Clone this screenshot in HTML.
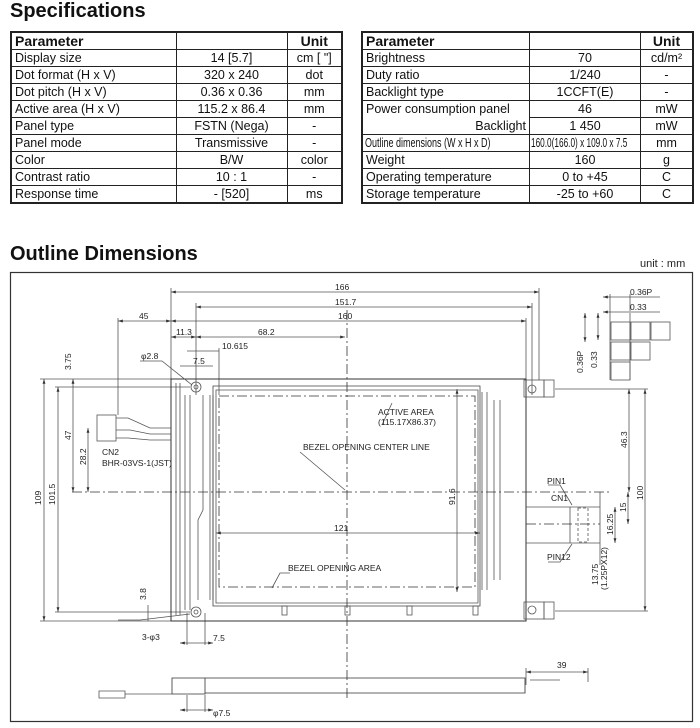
<!DOCTYPE html>
<html><head><meta charset="utf-8"><style>
body{margin:0;width:700px;height:728px;background:#fff;font-family:"Liberation Sans",sans-serif;position:relative;overflow:hidden}
h1{position:absolute;margin:0;font-size:20px;font-weight:bold;color:#111}
table{position:absolute;border-collapse:collapse;font-size:12.5px;color:#111}
td{border:1px solid #222;height:16px;padding:0 3px;line-height:16px;white-space:nowrap}
td.c{text-align:center}
tr.h td{font-weight:bold;font-size:14px}
table{border:2px solid #222}
.sq{display:inline-block;transform:scaleX(0.72);transform-origin:left center}
</style></head><body>
<h1 style="left:10px;top:0px">Specifications</h1>
<table style="left:10px;top:31px;width:333px">
<col style="width:165px"><col style="width:111px"><col style="width:55px">
<tr class="h"><td>Parameter</td><td></td><td class="c">Unit</td></tr>
<tr><td>Display size</td><td class="c">14 [5.7]</td><td class="c">cm [ "]</td></tr>
<tr><td>Dot format (H x V)</td><td class="c">320 x 240</td><td class="c">dot</td></tr>
<tr><td>Dot pitch (H x V)</td><td class="c">0.36 x 0.36</td><td class="c">mm</td></tr>
<tr><td>Active area (H x V)</td><td class="c">115.2 x 86.4</td><td class="c">mm</td></tr>
<tr><td>Panel type</td><td class="c">FSTN (Nega)</td><td class="c">-</td></tr>
<tr><td>Panel mode</td><td class="c">Transmissive</td><td class="c">-</td></tr>
<tr><td>Color</td><td class="c">B/W</td><td class="c">color</td></tr>
<tr><td>Contrast ratio</td><td class="c">10 : 1</td><td class="c">-</td></tr>
<tr><td>Response time</td><td class="c">- [520]</td><td class="c">ms</td></tr>
</table>
<table style="left:361px;top:31px;width:333px">
<col style="width:166px"><col style="width:110px"><col style="width:55px">
<tr class="h"><td>Parameter</td><td></td><td class="c">Unit</td></tr>
<tr><td>Brightness</td><td class="c">70</td><td class="c">cd/m²</td></tr>
<tr><td>Duty ratio</td><td class="c">1/240</td><td class="c">-</td></tr>
<tr><td>Backlight type</td><td class="c">1CCFT(E)</td><td class="c">-</td></tr>
<tr><td style="border-bottom:none">Power consumption panel</td><td class="c">46</td><td class="c">mW</td></tr>
<tr><td style="border-top:none;text-align:right">Backlight</td><td class="c">1 450</td><td class="c">mW</td></tr>
<tr><td style="padding:0 2px;overflow:hidden;max-width:162px"><span class="sq">Outline dimensions (W x H x D)</span></td><td style="padding:0 1px;overflow:hidden;max-width:108px"><span class="sq" style="transform:scaleX(0.66)">160.0(166.0) x 109.0 x 7.5</span></td><td class="c">mm</td></tr>
<tr><td>Weight</td><td class="c">160</td><td class="c">g</td></tr>
<tr><td>Operating temperature</td><td class="c">0 to +45</td><td class="c">C</td></tr>
<tr><td>Storage temperature</td><td class="c">-25 to +60</td><td class="c">C</td></tr>
</table>
<h1 style="left:10px;top:243px">Outline Dimensions</h1>
<div style="position:absolute;left:640px;top:258px;font-size:11px;color:#222">unit : mm</div>
<svg style="position:absolute;left:0;top:0" width="700" height="728" viewBox="0 0 700 728" font-family="Liberation Sans, sans-serif" font-size="8" fill="#222">
<defs><marker id="a" viewBox="0 0 10 10" refX="10" refY="5" markerWidth="6" markerHeight="6" orient="auto-start-reverse"><path d="M0 2L10 5L0 8z" fill="#333"/></marker></defs>
<rect x="10.5" y="272.5" width="682" height="449" fill="none" stroke="#333" stroke-width="1.2"/>
<g stroke="#555" stroke-width="0.8" fill="none">
<line x1="171" y1="292" x2="539" y2="292" marker-start="url(#a)" marker-end="url(#a)"/>
<line x1="196" y1="307" x2="532" y2="307" marker-start="url(#a)" marker-end="url(#a)"/>
<line x1="171" y1="321" x2="526" y2="321" marker-start="url(#a)" marker-end="url(#a)"/>
<line x1="118" y1="321" x2="171" y2="321" marker-start="url(#a)" marker-end="url(#a)"/>
<line x1="171" y1="337" x2="196" y2="337" marker-start="url(#a)" marker-end="url(#a)"/>
<line x1="196" y1="337" x2="345" y2="337" marker-start="url(#a)" marker-end="url(#a)"/>
<line x1="187" y1="351" x2="219" y2="351"/>
<line x1="180" y1="366" x2="213" y2="366"/>
<line x1="171" y1="288" x2="171" y2="380"/><line x1="539" y1="288" x2="539" y2="380"/>
<line x1="196" y1="303" x2="196" y2="395"/><line x1="532" y1="303" x2="532" y2="395"/>
<line x1="526" y1="318" x2="526" y2="380"/><line x1="118" y1="318" x2="118" y2="415"/>
<line x1="219" y1="348" x2="219" y2="395"/>
<line x1="44" y1="379" x2="44" y2="621" marker-start="url(#a)" marker-end="url(#a)"/>
<line x1="58" y1="387" x2="58" y2="612" marker-start="url(#a)" marker-end="url(#a)"/>
<line x1="73" y1="379" x2="73" y2="492" marker-start="url(#a)" marker-end="url(#a)"/>
<line x1="88" y1="428" x2="88" y2="492" marker-start="url(#a)" marker-end="url(#a)"/>
<line x1="40" y1="379" x2="171" y2="379"/><line x1="55" y1="387" x2="190" y2="387"/>
<line x1="40" y1="621" x2="171" y2="621"/><line x1="55" y1="612" x2="190" y2="612"/>
<line x1="148" y1="605" x2="148" y2="621"/>
<line x1="180" y1="643" x2="213" y2="643" marker-start="url(#a)" marker-end="url(#a)"/>
<line x1="180" y1="710" x2="213" y2="710" marker-start="url(#a)" marker-end="url(#a)"/>
<line x1="187" y1="613" x2="187" y2="645"/><line x1="205" y1="613" x2="205" y2="645"/>
<line x1="187" y1="695" x2="187" y2="712"/><line x1="205" y1="695" x2="205" y2="712"/>
<line x1="629" y1="389" x2="629" y2="492" marker-start="url(#a)" marker-end="url(#a)"/>
<line x1="645" y1="389" x2="645" y2="611" marker-start="url(#a)" marker-end="url(#a)"/>
<line x1="628" y1="492" x2="628" y2="524" marker-start="url(#a)" marker-end="url(#a)"/>
<line x1="615" y1="507" x2="615" y2="543" marker-start="url(#a)" marker-end="url(#a)"/>
<line x1="600" y1="492" x2="600" y2="565"/>
<line x1="555" y1="389" x2="648" y2="389"/><line x1="555" y1="611" x2="648" y2="611"/>
<line x1="526" y1="672" x2="588" y2="672" marker-start="url(#a)" marker-end="url(#a)"/>
<line x1="588" y1="668" x2="588" y2="682"/><line x1="526" y1="668" x2="526" y2="685"/>
<line x1="216" y1="533" x2="480" y2="533" marker-start="url(#a)" marker-end="url(#a)"/>
<line x1="457" y1="389" x2="457" y2="592" marker-start="url(#a)" marker-end="url(#a)"/>
<path d="M171 379H526V621H171Z" stroke="#333" stroke-width="1"/>
<path d="M176 383V615M180 383V615" />
<path d="M185 395V610M190 395V610M203 395V510L198 520V600M210 395V600M213 395V600"/>
<path d="M213 386H480V606H213Z" stroke="#444"/>
<path d="M216 390H478V603H216Z"/>
<path d="M482 392V590M487 392V590M494 400V580M500 400V580"/>
<circle cx="196" cy="387" r="5"/><circle cx="196" cy="387" r="2"/>
<circle cx="196" cy="612" r="5"/><circle cx="196" cy="612" r="2"/>
<circle cx="532" cy="389" r="4"/><circle cx="532" cy="610" r="4"/>
<rect x="524" y="380" width="20" height="17"/><rect x="524" y="602" width="20" height="17"/>
<rect x="544" y="380" width="10" height="17"/><rect x="544" y="602" width="10" height="17"/>
<rect x="282" y="606" width="5" height="9"/><rect x="345" y="606" width="5" height="9"/><rect x="407" y="606" width="5" height="9"/><rect x="473" y="606" width="5" height="9"/>
<rect x="97" y="415" width="19" height="26"/><path d="M116 418H128L150 428H171M116 430H130L150 434H171M116 438H128L150 440H171"/>
<path d="M526 507H600M526 543H600M570 507V543"/>
<rect x="578" y="508" width="10" height="34" stroke-dasharray="3,2"/>
<rect x="611" y="322" width="19" height="18"/><rect x="631" y="322" width="19" height="18"/><rect x="651" y="322" width="19" height="18"/>
<rect x="611" y="342" width="19" height="18"/><rect x="631" y="342" width="19" height="18"/>
<rect x="611" y="362" width="19" height="18"/>
<line x1="603" y1="297" x2="631" y2="297" marker-start="url(#a)"/><line x1="631" y1="297" x2="660" y2="297"/>
<line x1="603" y1="312" x2="629" y2="312" marker-start="url(#a)"/><line x1="631" y1="312" x2="660" y2="312"/>
<line x1="610" y1="294" x2="610" y2="380"/><line x1="630" y1="294" x2="630" y2="380"/>
<line x1="585" y1="313" x2="585" y2="342" marker-start="url(#a)" marker-end="url(#a)"/>
<line x1="598" y1="313" x2="598" y2="340" marker-start="url(#a)" marker-end="url(#a)"/>
<path d="M205 678H525V693H205ZM172 678H205V694H172Z" stroke="#333"/>
<path d="M125 694H172M99 691H125V698H99Z"/>
<path d="M525 678V693M530 680H560"/>
<path d="M140 361H162L192 385M118 620H140L190 614M300 452L345 490M382 425L392 403M290 573H280L272 588M548 485H560L572 505M548 562H560L572 544"/>
</g>
<g stroke="#333" stroke-width="0.8" stroke-dasharray="10,3,2,3" fill="none">
<line x1="72" y1="492" x2="610" y2="492"/>
<line x1="347" y1="310" x2="347" y2="700"/>
<rect x="219" y="396" width="256" height="191"/>
<line x1="526" y1="524" x2="600" y2="524"/>
</g>
<g font-size="8.5">
<text x="335" y="290">166</text><text x="335" y="305">151.7</text><text x="338" y="319">160</text>
<text x="139" y="319">45</text><text x="176" y="335">11.3</text><text x="258" y="335">68.2</text>
<text x="222" y="349">10.615</text><text x="193" y="364">7.5</text><text x="141" y="359">φ2.8</text>
<text x="213" y="641">7.5</text><text x="213" y="716">φ7.5</text><text x="142" y="640">3-φ3</text>
<text x="102" y="455">CN2</text><text x="102" y="466">BHR-03VS-1(JST)</text>
<text x="303" y="450">BEZEL OPENING CENTER LINE</text>
<text x="378" y="415">ACTIVE AREA</text><text x="378" y="425">(115.17X86.37)</text>
<text x="288" y="571">BEZEL OPENING AREA</text>
<text x="334" y="531">121</text>
<text x="547" y="484">PIN1</text><text x="551" y="501">CN1</text><text x="547" y="560">PIN12</text>
<text x="557" y="668">39</text>
<text x="630" y="295">0.36P</text><text x="630" y="310">0.33</text>
</g>
<g font-size="8.5">
<text transform="translate(41,505) rotate(-90)">109</text>
<text transform="translate(55,505) rotate(-90)">101.5</text>
<text transform="translate(71,440) rotate(-90)">47</text>
<text transform="translate(71,370) rotate(-90)">3.75</text>
<text transform="translate(86,465) rotate(-90)">28.2</text>
<text transform="translate(146,600) rotate(-90)">3.8</text>
<text transform="translate(455,505) rotate(-90)">91.6</text>
<text transform="translate(627,448) rotate(-90)">46.3</text>
<text transform="translate(643,500) rotate(-90)">100</text>
<text transform="translate(626,512) rotate(-90)">15</text>
<text transform="translate(613,535) rotate(-90)">16.25</text>
<text transform="translate(598,585) rotate(-90)">13.75</text>
<text transform="translate(607,590) rotate(-90)">(1.25PX12)</text>
<text transform="translate(583,373) rotate(-90)">0.36P</text>
<text transform="translate(597,368) rotate(-90)">0.33</text>
</g>
</svg>
</body></html>
